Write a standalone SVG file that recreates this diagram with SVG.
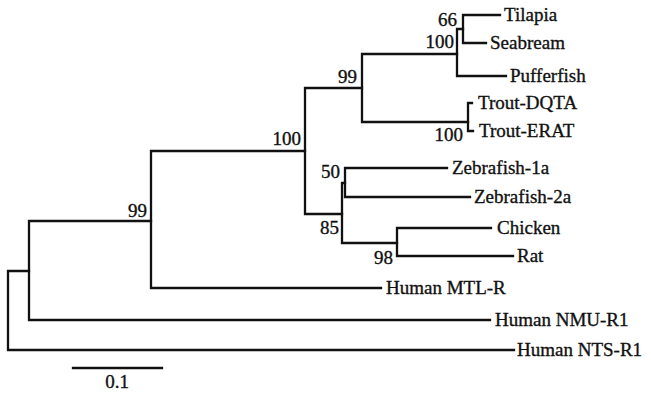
<svg xmlns="http://www.w3.org/2000/svg" width="651" height="395" viewBox="0 0 651 395">
<style>
.e{fill:none;stroke:#111;stroke-width:2.3;stroke-linecap:square}
.t{font-family:"Liberation Serif","Times New Roman",serif;font-size:19px;fill:#111;stroke:#111;stroke-width:0.35}
.b{font-family:"Liberation Serif","Times New Roman",serif;font-size:19px;fill:#111;stroke:#111;stroke-width:0.35;text-anchor:end}
</style>
<rect width="651" height="395" fill="#fff"/>
<g id="connectors">
<path class="e" d="M8 271V350M8 271H29M8 350H514"/>
<path class="e" d="M29 221V320M29 221H151M29 320H490"/>
<path class="e" d="M151 151V288M151 151H305M151 288H381"/>
<path class="e" d="M305 88V214M305 88H362M305 214H342"/>
<path class="e" d="M362 54V122M362 54H457M362 122H468"/>
<path class="e" d="M457 29V76M457 29H463M457 76H506"/>
<path class="e" d="M463 15V43M463 15H500M463 43H486"/>
<path class="e" d="M468 103V131M468 103H472M468 131H473"/>
<path class="e" d="M342 183V243M342 183H345M342 243H397"/>
<path class="e" d="M345 168V197M345 168H447M345 197H470"/>
<path class="e" d="M397 228V256M397 228H491M397 256H513"/>
</g>
<g id="leaf-tilapia"><text class="t" x="504" y="21">Tilapia</text></g>
<g id="leaf-seabream"><text class="t" x="490" y="49">Seabream</text></g>
<g id="leaf-pufferfish"><text class="t" x="510" y="82">Pufferfish</text></g>
<g id="leaf-trout-dqta"><text class="t" x="478" y="109">Trout-DQTA</text></g>
<g id="leaf-trout-erat"><text class="t" x="479" y="137">Trout-ERAT</text></g>
<g id="leaf-zebrafish-1a"><text class="t" x="452" y="174">Zebrafish-1a</text></g>
<g id="leaf-zebrafish-2a"><text class="t" x="474" y="203">Zebrafish-2a</text></g>
<g id="leaf-chicken"><text class="t" x="497" y="234">Chicken</text></g>
<g id="leaf-rat"><text class="t" x="517" y="262">Rat</text></g>
<g id="leaf-human-mtl-r"><text class="t" x="386" y="294">Human MTL-R</text></g>
<g id="leaf-human-nmu-r1"><text class="t" x="495" y="326">Human NMU-R1</text></g>
<g id="leaf-human-nts-r1"><text class="t" x="517" y="356">Human NTS-R1</text></g>
<g id="node-66"><text class="b" x="457" y="26">66</text></g>
<g id="node-100a"><text class="b" x="454" y="48">100</text></g>
<g id="node-99a"><text class="b" x="357" y="83">99</text></g>
<g id="node-100b"><text class="b" x="463" y="141">100</text></g>
<g id="node-100c"><text class="b" x="301" y="145">100</text></g>
<g id="node-99b"><text class="b" x="147" y="217">99</text></g>
<g id="node-50"><text class="b" x="340" y="178">50</text></g>
<g id="node-85"><text class="b" x="339" y="234">85</text></g>
<g id="node-98"><text class="b" x="393" y="264">98</text></g>
<g id="scale-bar">
<path class="e" d="M73 368H162"/>
<text class="t" x="117" y="388" text-anchor="middle">0.1</text>
</g>
</svg>
